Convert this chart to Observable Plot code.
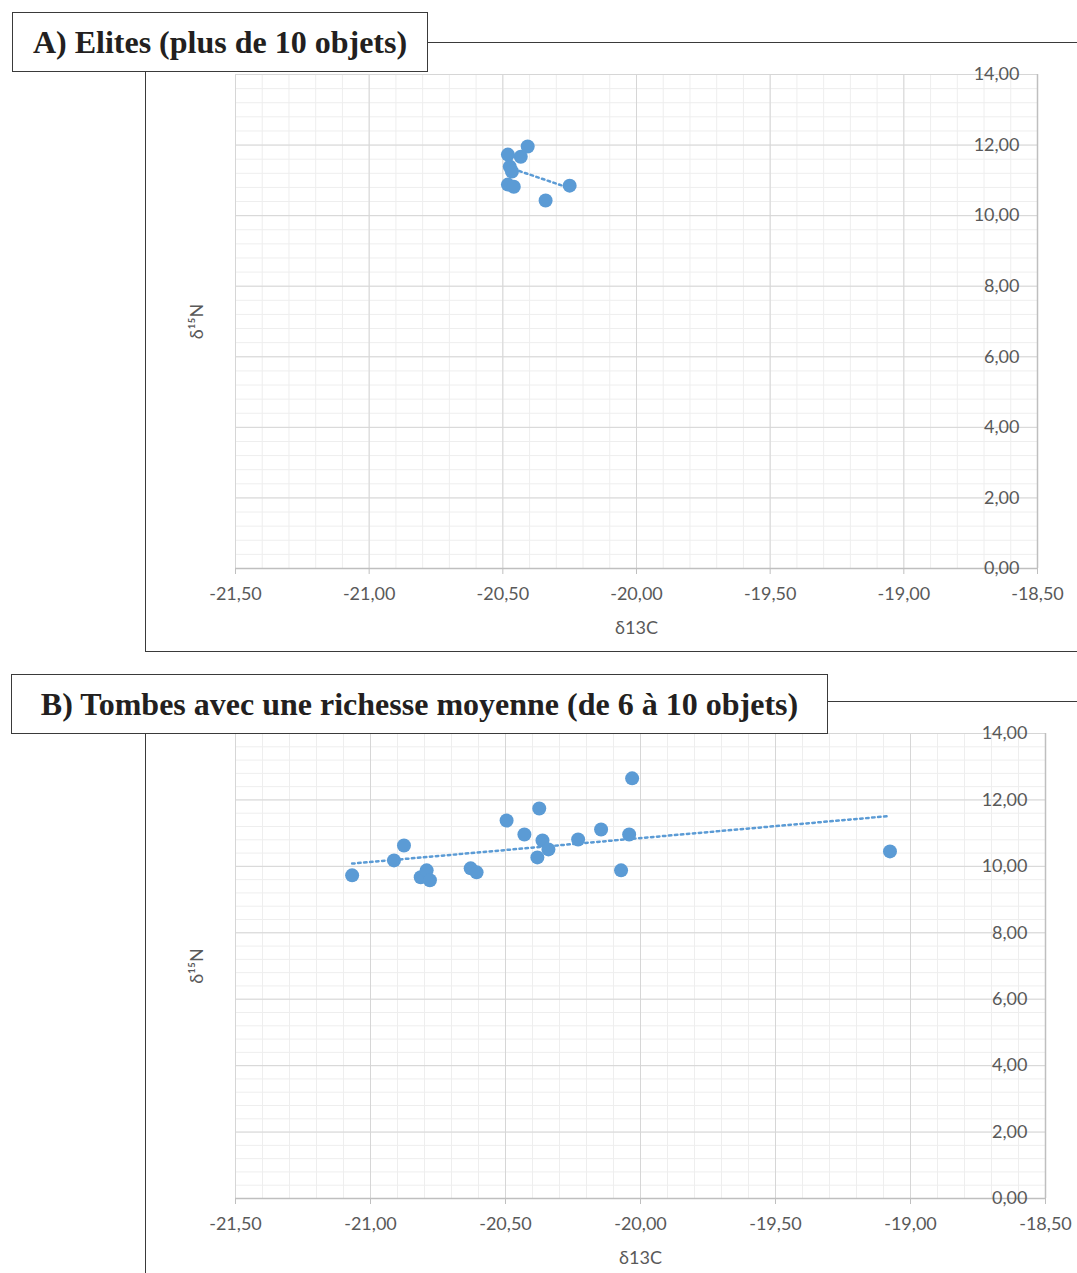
<!DOCTYPE html>
<html><head><meta charset="utf-8">
<script src="https://cdn.jsdelivr.net/npm/d3@7"></script>
<script src="https://cdn.jsdelivr.net/npm/@observablehq/plot@0.6"></script>
<style>
body{margin:0;background:#fff;}
#page{position:relative;width:1077px;height:1273px;overflow:hidden;background:#fff;}
.frame{position:absolute;border:1.5px solid #3a3a3a;box-sizing:border-box;pointer-events:none}
.title{position:absolute;border:1.5px solid #3a3a3a;background:#fff;box-sizing:border-box;font-family:"Liberation Serif","DejaVu Serif",serif;font-weight:bold;font-size:32px;color:#231f20;display:flex;align-items:center;justify-content:center;white-space:nowrap}
.plotwrap{position:absolute;left:0}
</style></head>
<body><div id="page">
 <div class="plotwrap" id="pa" style="top:0"></div>
 <div class="plotwrap" id="pb" style="top:660px"></div>
 <div class="frame" style="left:145px;top:42px;width:1000px;height:610px"></div>
 <div class="frame" style="left:145px;top:701px;width:1000px;height:700px"></div>
 <div class="title" id="ta" style="left:12px;top:12px;width:416px;height:60px"></div>
 <div class="title" id="tb" style="left:11px;top:674px;width:817px;height:60px"></div>
</div>
<script>
// Panel titles
const titleA = "A) Elites (plus de 10 objets)";
const titleB = "B) Tombes avec une richesse moyenne (de 6 à 10 objets)";
const xLabel = "δ13C";
const yLabel = "δ¹⁵N";

// Panel A: élites — δ13C and δ15N
const eliteC = [-20.481, -20.433, -20.407, -20.474, -20.466, -20.481, -20.459, -20.340, -20.250];
const eliteN = [11.73, 11.67, 11.96, 11.39, 11.25, 10.88, 10.82, 10.43, 10.85];

// Panel B: richesse moyenne — δ13C and δ15N
const moyC = [-21.068, -20.913, -20.876, -20.814, -20.792, -20.780, -20.629, -20.607, -20.496, -20.430,
              -20.375, -20.363, -20.341, -20.382, -20.231, -20.146, -20.042, -20.031, -20.072, -19.076];
const moyN = [9.73, 10.18, 10.63, 9.67, 9.88, 9.58, 9.94, 9.82, 11.38, 10.96,
              11.74, 10.78, 10.51, 10.27, 10.81, 11.11, 10.96, 12.65, 9.88, 10.45];

// Axis ticks
const xTicks = [-21.5, -21.0, -20.5, -20.0, -19.5, -19.0, -18.5];
const yTicks = [0, 2, 4, 6, 8, 10, 12, 14];
const xMinor = d3.range(0, 31).map(i => -21.5 + i * 0.1);
const yMinor = d3.range(0, 36).map(i => i * 0.4);

const fmt = d => d.toFixed(2).replace(".", ",");
const blue = "#5b9bd5";
const grey = "#595959";

function panel(C, N, {height, marginTop, marginBottom, marginRight}) {
  const data = C.map((c, i) => ({c, n: N[i]}));
  return Plot.plot({
    width: 1077, height, marginLeft: 235, marginRight, marginTop, marginBottom,
    style: {background: "transparent", fontFamily: "Lato, 'Open Sans', sans-serif", fontSize: "18px", color: grey},
    x: {domain: [-21.5, -18.5]},
    y: {domain: [0, 14]},
    marks: [
      Plot.gridX(xMinor, {stroke: "#eeeeee", strokeOpacity: 1}),
      Plot.gridY(yMinor, {stroke: "#eeeeee", strokeOpacity: 1}),
      Plot.gridX(xTicks, {stroke: "#d6d6d6", strokeOpacity: 1}),
      Plot.gridY(yTicks, {stroke: "#d6d6d6", strokeOpacity: 1}),
      Plot.ruleY([0], {stroke: "#bfbfbf", strokeWidth: 1.5}),
      Plot.ruleX([-18.5], {stroke: "#bfbfbf", strokeWidth: 1.5}),
      Plot.axisX(xTicks, {tickSize: 6, tickPadding: 13, tickFormat: fmt, label: null, stroke: "#bfbfbf", fill: grey}),
      Plot.axisY(yTicks, {anchor: "right", tickSize: 0, textAnchor: "end", dx: -27, tickFormat: fmt, label: null, fill: grey}),
      Plot.text([xLabel], {frameAnchor: "bottom", lineAnchor: "middle", textAnchor: "middle", dy: 60, fill: grey}),
      Plot.text([yLabel], {frameAnchor: "left", textAnchor: "middle", lineAnchor: "middle", dx: -38, rotate: -90, fill: grey}),
      Plot.linearRegressionY(data, {x: "c", y: "n", ci: 0, stroke: blue, strokeWidth: 2.5, strokeDasharray: "2.5,3.5"}),
      Plot.dot(data, {x: "c", y: "n", r: 7, fill: blue})
    ]
  });
}

document.getElementById("ta").textContent = titleA;
document.getElementById("tb").textContent = titleB;
document.getElementById("pa").append(panel(eliteC, eliteN, {height: 660, marginTop: 74, marginBottom: 92, marginRight: 40}));
document.getElementById("pb").append(panel(moyC, moyN, {height: 613, marginTop: 73, marginBottom: 75, marginRight: 32}));
</script>
</body></html>
